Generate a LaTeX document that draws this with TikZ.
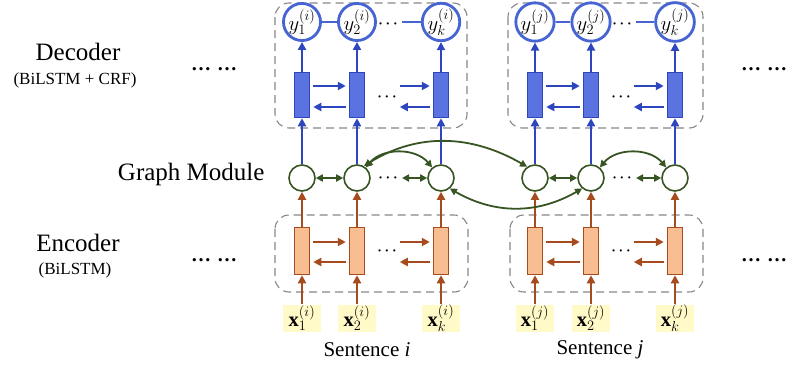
\documentclass[tikz,border=0pt]{standalone}
\usepackage{fontspec}
\setmainfont{Liberation Serif}
\usetikzlibrary{arrows.meta,calc}
\definecolor{bl}{RGB}{45,70,190}
\definecolor{blfill}{RGB}{90,115,225}
\definecolor{cblue}{RGB}{70,100,210}
\definecolor{br}{RGB}{165,75,30}
\definecolor{orfill}{RGB}{248,190,145}
\definecolor{gr}{RGB}{55,85,35}
\definecolor{dgray}{RGB}{135,135,135}
\definecolor{ylw}{RGB}{255,250,200}
\begin{document}
\begin{tikzpicture}[x=1pt,y=1pt,
 ycirc/.style={circle,draw=cblue,line width=2.8pt,fill=white,minimum size=34pt,inner sep=0pt,font=\fontsize{22}{22}\selectfont},
 drect/.style={draw=bl,fill=blfill,line width=1.5pt,minimum width=15pt,minimum height=45pt,inner sep=0pt},
 erect/.style={draw=br,fill=orfill,line width=1.5pt,minimum width=15pt,minimum height=47pt,inner sep=0pt},
 gnode/.style={circle,draw=gr,line width=1.6pt,fill=white,minimum size=26pt,inner sep=0pt},
 xlab/.style={fill=ylw,minimum width=38pt,minimum height=27pt,inner sep=0pt,font=\fontsize{20.5}{20.5}\selectfont},
 barrow/.style={draw=bl,line width=2.2pt,-{Triangle[length=8pt,width=8pt]}},
 oarrow/.style={draw=br,line width=2.2pt,-{Triangle[length=8pt,width=8pt]}},
 garrow/.style={draw=gr,line width=1.8pt,{Triangle[length=7pt,width=7pt]}-{Triangle[length=7pt,width=7pt]}},
 dbox/.style={draw=dgray,dash pattern=on 8pt off 5pt,line width=1.1pt,rounded corners=14pt},
 lbl/.style={font=\fontsize{25}{25}\selectfont},
 sublbl/.style={font=\fontsize{17}{17}\selectfont},
 dotlbl/.style={font=\fontsize{20}{20}\selectfont\bfseries},
 mdots/.style={font=\fontsize{14}{14}\selectfont\boldmath,inner sep=0pt},
]
\useasboundingbox (0,0) rectangle (795,-367);
% dashed group boxes
\draw[dbox] (275,-3) rectangle (467,-128);
\draw[dbox] (508,-3) rectangle (703,-128);
\draw[dbox] (275,-215) rectangle (468,-292);
\draw[dbox] (510,-215) rectangle (703,-292);
% columns
\foreach \s/\a/\b/\c in {i/302/357/441, j/535/591/675} {
  \foreach \n/\x in {1/\a, 2/\b, k/\c} {
    \node[ycirc] (y\s\n) at (\x,-22) {$y_{\n}^{(\s)}$};
    \node[drect] (d\s\n) at (\x,-95) {};
    \node[gnode] (g\s\n) at (\x,-178) {};
    \node[erect] (e\s\n) at (\x,-251) {};
    \node[xlab] (x\s\n) at (\x,-318) {$\mathbf{x}_{\n}^{(\s)}$};
    \draw[barrow] (d\s\n) -- (y\s\n);
    \draw[barrow] (g\s\n) -- (d\s\n);
    \draw[oarrow] (e\s\n) -- (g\s\n);
    \draw[oarrow] (x\s\n) -- (e\s\n);
  }
  % output chain
  \draw[cblue,line width=1.1pt] (y\s1) -- (y\s2);
  \node[mdots] (yd\s) at ($(y\s k)+(-53,-2)$) {$\cdots$};
  \coordinate (yl\s) at ($(y\s k)+(-39,0)$);
  \draw[cblue,line width=1.1pt] (yl\s) -- (y\s k);
  % decoder lstm arrows
  \draw[barrow] ($(d\s1.east)+(3,9)$) -- ($(d\s2.west)+(-3,9)$);
  \draw[barrow] ($(d\s2.west)+(-3,-12)$) -- ($(d\s1.east)+(3,-12)$);
  \node[mdots] (dd\s) at ($(d\s k)+(-54,-2)$) {$\cdots$};
  \coordinate (da\s) at ($(d\s k.west)+(-33,9)$);
  \coordinate (db\s) at ($(d\s k.west)+(-33,-12)$);
  \draw[barrow] (da\s) -- ($(d\s k.west)+(-3,9)$);
  \draw[barrow] ($(d\s k.west)+(-3,-12)$) -- (db\s);
  % graph chain
  \draw[garrow] (g\s1) -- (g\s2);
  \node[mdots] (gd\s) at ($(g\s k)+(-53,0)$) {$\cdots$};
  \coordinate (gl\s) at ($(g\s k)+(-39,0)$);
  \draw[garrow] (gl\s) -- (g\s k);
  % encoder lstm arrows
  \draw[oarrow] ($(e\s1.east)+(3,9)$) -- ($(e\s2.west)+(-3,9)$);
  \draw[oarrow] ($(e\s2.west)+(-3,-11)$) -- ($(e\s1.east)+(3,-11)$);
  \node[mdots] (ed\s) at ($(e\s k)+(-54,0)$) {$\cdots$};
  \coordinate (ea\s) at ($(e\s k.west)+(-33,9)$);
  \coordinate (eb\s) at ($(e\s k.west)+(-33,-11)$);
  \draw[oarrow] (ea\s) -- ($(e\s k.west)+(-3,9)$);
  \draw[oarrow] ($(e\s k.west)+(-3,-11)$) -- (eb\s);
}
% graph cross links
\draw[garrow] (gi2.50) to[out=50,in=130] (gik.130);
\draw[garrow] (gi2.60) to[out=32,in=150] (gj1.125);
\draw[garrow] (gik.-50) to[out=-30,in=-150] (gj2.-130);
\draw[garrow] (gj2.50) to[out=50,in=130] (gjk.130);
% labels
\node[lbl] (dec) at (78,-52) {Decoder};
\node[sublbl] (decs) at (75,-80) {(BiLSTM + CRF)};
\node[dotlbl,anchor=base] (dotl1) at (214,-70) {\ldots\hspace{6pt}\ldots};
\node[dotlbl,anchor=base] (dotr1) at (764,-70) {\ldots\hspace{6pt}\ldots};
\node[lbl,anchor=east] (gm) at (268,-174) {Graph Module};
\node[lbl] (enc) at (78,-243) {Encoder};
\node[sublbl] (encs) at (75,-270) {(BiLSTM)};
\node[dotlbl,anchor=base] (dotl2) at (214,-261) {\ldots\hspace{6pt}\ldots};
\node[dotlbl,anchor=base] (dotr2) at (764,-261) {\ldots\hspace{6pt}\ldots};
\node[font=\fontsize{21}{21}\selectfont] (si) at (367,-350) {Sentence \textit{i}};
\node[font=\fontsize{21}{21}\selectfont] (sj) at (600,-350) {Sentence \textit{j}};
\end{tikzpicture}
\end{document}
